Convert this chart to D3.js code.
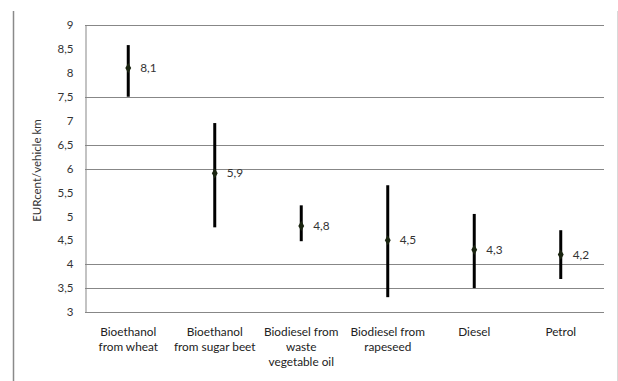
<!DOCTYPE html>
<html>
<head>
<meta charset="utf-8">
<script src="https://cdn.jsdelivr.net/npm/d3@7"></script>
<style>
  html, body { margin: 0; padding: 0; background: #fff; }
  svg { display: block; }
  text { font-family: Lato, "Open Sans", sans-serif; }
</style>
</head>
<body>
<svg id="chart" width="618" height="381"></svg>
<script>
// Fuel pathways and their external cost estimates (EURcent per vehicle km)
const categories = [
  ["Bioethanol", "from wheat"],
  ["Bioethanol", "from sugar beet"],
  ["Biodiesel from", "waste", "vegetable oil"],
  ["Biodiesel from", "rapeseed"],
  ["Diesel"],
  ["Petrol"]
];
const meanValues = [8.1, 5.9, 4.8, 4.5, 4.3, 4.2];
const lowValues  = [7.5, 4.77, 4.48, 3.31, 3.5, 3.69];
const highValues = [8.58, 6.95, 5.23, 5.65, 5.05, 4.71];
const valueLabels = ["8,1", "5,9", "4,8", "4,5", "4,3", "4,2"];
const yTicks = [3, 3.5, 4, 4.5, 5, 5.5, 6, 6.5, 7, 7.5, 8, 8.5, 9];
const gridTicks = [3, 3.5, 4, 6, 6.5, 7.5, 9];
const yTitle = "EURcent/vehicle km";

const svg = d3.select("#chart");
const margin = { left: 85, right: 14, top: 25, bottom: 69 };
const W = 618, H = 381;

const x = d3.scaleBand()
  .domain(d3.range(categories.length))
  .range([margin.left, W - margin.right])
  .padding(0);
const y = d3.scaleLinear().domain([3, 9]).range([H - margin.bottom, margin.top]);

// outer frame edges
svg.append("line").attr("x1", 13.5).attr("x2", 13.5).attr("y1", 11).attr("y2", H)
  .attr("stroke", "#8a8a8a").attr("stroke-width", 1.5);
svg.append("line").attr("x1", 617.5).attr("x2", 617.5).attr("y1", 11).attr("y2", H)
  .attr("stroke", "#d9d9d9").attr("stroke-width", 1);

// horizontal gridlines
svg.append("g").selectAll("line").data(gridTicks).join("line")
  .attr("x1", margin.left).attr("x2", W - margin.right)
  .attr("y1", d => Math.round(y(d)) + 0.5).attr("y2", d => Math.round(y(d)) + 0.5)
  .attr("stroke", "#878787").attr("stroke-width", 1);

// y axis
const yAxis = d3.axisLeft(y).tickValues(yTicks).tickSize(0).tickPadding(12)
  .tickFormat(d => String(d).replace(".", ","));
const gy = svg.append("g").attr("transform", `translate(${margin.left + 0.5},0)`).call(yAxis);
gy.select(".domain").attr("stroke", "#878787");
gy.selectAll("text").attr("font-size", 11.5).attr("fill", "#333");

// y title
svg.append("text")
  .attr("transform", `translate(41,${(margin.top + H - margin.bottom) / 2 + 2}) rotate(-90)`)
  .attr("text-anchor", "middle").attr("font-size", 11.5).attr("fill", "#333")
  .text(yTitle);

// category labels
const xLab = svg.append("g");
categories.forEach((lines, i) => {
  const t = xLab.append("text")
    .attr("x", x(i) + x.bandwidth() / 2)
    .attr("y", 336)
    .attr("text-anchor", "middle").attr("font-size", 11.8).attr("fill", "#222");
  lines.forEach((ln, j) => {
    t.append("tspan").attr("x", x(i) + x.bandwidth() / 2).attr("dy", j === 0 ? 0 : 15).text(ln);
  });
});

// error bars
const idx = d3.range(categories.length);
const cx = i => x(i) + x.bandwidth() / 2;
svg.append("g").selectAll("line").data(idx).join("line")
  .attr("x1", cx).attr("x2", cx)
  .attr("y1", i => y(highValues[i])).attr("y2", i => y(lowValues[i]))
  .attr("stroke", "#000").attr("stroke-width", 3);

// mean markers
svg.append("g").selectAll("path").data(idx).join("path")
  .attr("transform", i => `translate(${cx(i)},${y(meanValues[i])})`)
  .attr("d", d3.symbol(d3.symbolDiamond, 30)())
  .attr("fill", "#1a2410");

// value labels
svg.append("g").selectAll("text").data(idx).join("text")
  .attr("x", i => cx(i) + 12)
  .attr("y", i => y(meanValues[i]) + 4)
  .attr("font-size", 11.8).attr("fill", "#333")
  .text(i => valueLabels[i]);
</script>
</body>
</html>
